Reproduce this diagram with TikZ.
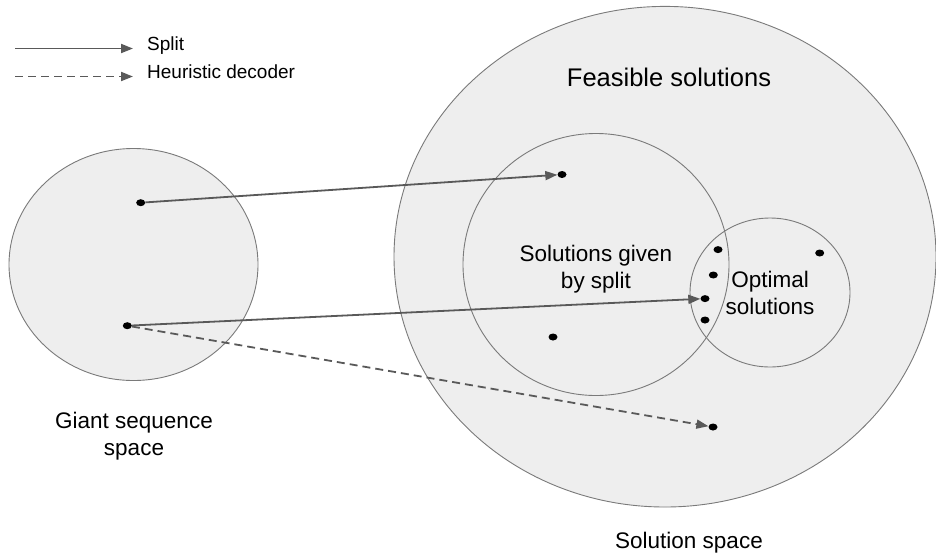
\documentclass[tikz,border=0pt]{standalone}
\usepackage{fontspec}
\setmainfont{Liberation Sans}
\usetikzlibrary{arrows.meta,shapes.geometric}
\definecolor{setfill}{HTML}{EEEEEE}
\definecolor{setline}{HTML}{7A7A7A}
\definecolor{arrowgray}{HTML}{595959}
\tikzset{
	point/.style={fill=black,ellipse,inner sep=0pt,minimum width=9pt,minimum height=7pt},
	region/.style={draw=setline,line width=0.9pt},
	splitarrow/.style={draw=arrowgray,line width=1.8pt,-{Triangle[length=12pt,width=9pt]}},
	decoderarrow/.style={splitarrow,dash pattern=on 8pt off 5pt},
	regionlabel/.style={font=\fontsize{22.5}{27}\selectfont,align=center,inner sep=0pt,anchor=base},
	keylabel/.style={font=\fontsize{19}{23}\selectfont,inner sep=0pt,anchor=base west}
}
\begin{document}
\begin{tikzpicture}[x=1pt,y=-1pt]
				\useasboundingbox (0,0) rectangle (936,555);
				\draw[region,fill=setfill] (665,256.7) ellipse [x radius=271, y radius=250.3];
				\draw[region,fill=setfill] (133.5,264.5) ellipse [x radius=124.5, y radius=116];
				\draw[region] (596,264.5) ellipse [x radius=133, y radius=131];
				\draw[region] (770,292.5) ellipse [x radius=80, y radius=74.5];

				\node[point] (g1) at (140.7,202.7) {};
				\node[point] (g2) at (127.3,325.7) {};
				\node[point] (s1) at (562,174.5) {};
				\node[point] (s2) at (553,337) {};
				\node[point] (o1) at (718,249.6) {};
				\node[point] (o2) at (713.3,275) {};
				\node[point] (o3) at (705,298.6) {};
				\node[point] (o4) at (705,320) {};
				\node[point] (o5) at (819.7,253) {};
				\node[point] (f1) at (713,427) {};

				\node[regionlabel,font=\fontsize{25.5}{30}\selectfont] (feasible) at (669,86) {Feasible solutions};
				\node[regionlabel] (bysplit) at (596,288) {Solutions given\\by split};
				\node[regionlabel] (optimal) at (770,314) {Optimal\\solutions};
				\node[regionlabel] (giant) at (134,455.5) {Giant sequence\\space};
				\node[regionlabel] (solspace) at (689,548) {Solution space};

				\coordinate (splitfrom) at (15,48.5);
				\coordinate (splitto) at (133,48.5);
				\coordinate (heurfrom) at (15,76.5);
				\coordinate (heurto) at (133,76.5);
				\node[keylabel] (splitkey) at (147,50) {Split};
				\node[keylabel] (heurkey) at (147,78) {Heuristic decoder};

				\draw[splitarrow] (splitfrom) -- (splitto);
				\draw[decoderarrow] (heurfrom) -- (heurto);
				\draw[splitarrow] (g1) -- (s1);
				\draw[splitarrow] (g2) -- (o3);
				\draw[decoderarrow] (g2) -- (f1);
			\end{tikzpicture}
\end{document}
